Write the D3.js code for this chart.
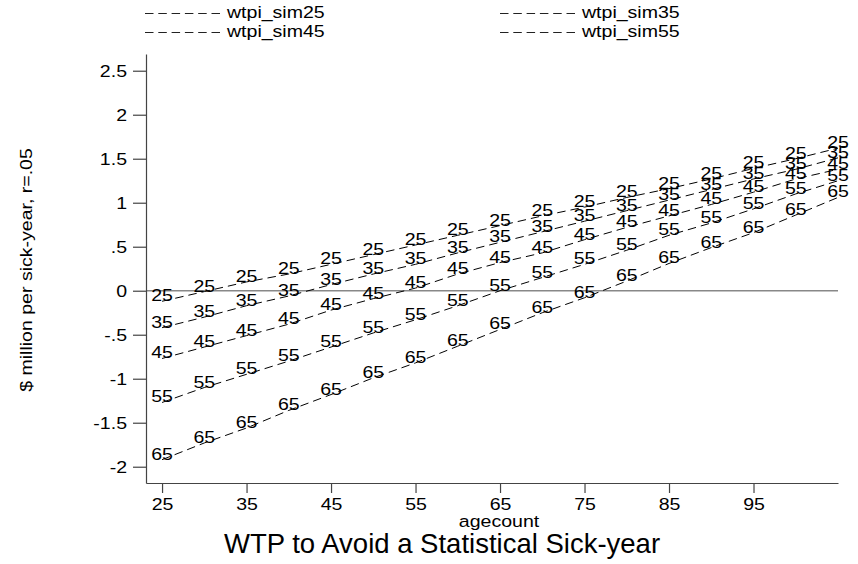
<!DOCTYPE html>
<html>
<head>
<meta charset="utf-8">
<script src="https://cdn.jsdelivr.net/npm/d3@7"></script>
<style>
  body { margin: 0; background: #fff; }
  svg { display: block; }
  text { font-family: Arial, "Liberation Sans", Helvetica, sans-serif; fill: #000; }
</style>
</head>
<body>
<svg id="chart" width="858" height="564"></svg>
<script>
// age points (every 5 years)
var ages = [25, 30, 35, 40, 45, 50, 55, 60, 65, 70, 75, 80, 85, 90, 95, 100, 105];

// wtp per sick-year
var sim25 = [-0.12, -0.01, 0.10, 0.19, 0.30, 0.41, 0.52, 0.63, 0.74, 0.85, 0.95, 1.06, 1.16, 1.27, 1.39, 1.50, 1.62];
var sim35 = [-0.42, -0.30, -0.17, -0.06, 0.07, 0.19, 0.30, 0.43, 0.55, 0.67, 0.79, 0.91, 1.03, 1.15, 1.27, 1.38, 1.51];
var sim45 = [-0.77, -0.64, -0.51, -0.38, -0.22, -0.09, 0.03, 0.19, 0.32, 0.43, 0.58, 0.72, 0.85, 0.98, 1.12, 1.27, 1.38];
var sim55 = [-1.27, -1.10, -0.95, -0.80, -0.64, -0.48, -0.33, -0.17, 0.00, 0.15, 0.30, 0.46, 0.63, 0.77, 0.93, 1.10, 1.25];
var sim65 = [-1.92, -1.73, -1.56, -1.36, -1.18, -0.99, -0.82, -0.63, -0.44, -0.25, -0.08, 0.11, 0.31, 0.49, 0.66, 0.86, 1.06];

var seriesNames = ["25", "35", "45", "55", "65"];
var seriesValues = [sim25, sim35, sim45, sim55, sim65];

var legendNames = ["wtpi_sim25", "wtpi_sim35", "wtpi_sim45", "wtpi_sim55"];

var xTicks = [25, 35, 45, 55, 65, 75, 85, 95];
var yTicks = [-2, -1.5, -1, -0.5, 0, 0.5, 1, 1.5, 2, 2.5];
var yTickLabels = ["-2", "-1.5", "-1", "-.5", "0", ".5", "1", "1.5", "2", "2.5"];

var SX = 1.15; // stata text is a bit wider than arial

var svg = d3.select("#chart");

var x = d3.scaleLinear().domain([23.1, 105]).range([146, 838]);
var y = d3.scaleLinear().domain([-2.185, 2.69]).range([483, 54]);

// zero line
svg.append("line")
    .attr("x1", x(23.1)).attr("x2", x(105))
    .attr("y1", y(0)).attr("y2", y(0))
    .attr("stroke", "#888").attr("stroke-width", 1.6);

// y axis
var yAxis = svg.append("g")
    .attr("transform", "translate(146,0)")
    .call(d3.axisLeft(y).tickValues(yTicks)
        .tickFormat(function(d, i) { return yTickLabels[i]; })
        .tickSize(13).tickSizeOuter(0));

yAxis.selectAll("text")
    .attr("x", null).attr("dy", null)
    .attr("transform", "translate(-19,6) scale(" + SX + ",1)")
    .style("font-size", "17px");

// x axis
var xAxis = svg.append("g")
    .attr("transform", "translate(0,483)")
    .call(d3.axisBottom(x).tickValues(xTicks)
        .tickFormat(d3.format("d"))
        .tickSize(10).tickSizeOuter(0));

xAxis.selectAll("text")
    .attr("y", null).attr("dy", null)
    .attr("transform", "translate(0,26.5) scale(" + SX + ",1)")
    .style("font-size", "17px");

svg.selectAll(".domain, .tick line")
    .attr("stroke", "#444").attr("stroke-width", 1.2);
svg.selectAll(".tick text").attr("fill", "#000").attr("font-family", null);

// dashed lines, then the age labels on top
var line = d3.line()
    .x(function(d, i) { return x(ages[i]); })
    .y(function(d) { return y(d); });

svg.selectAll(".series")
    .data(seriesValues)
    .enter().append("path")
    .attr("class", "series")
    .attr("d", line)
    .attr("fill", "none")
    .attr("stroke", "#000")
    .attr("stroke-width", 1)
    .attr("stroke-dasharray", "8.5,5");

seriesValues.forEach(function(vals, s) {
    svg.append("g").selectAll("text")
        .data(vals)
        .enter().append("text")
        .attr("text-anchor", "middle")
        .attr("transform", function(d, i) {
            return "translate(" + x(ages[i]) + "," + y(d) + ") scale(" + SX + ",1)";
        })
        .style("font-size", "17px")
        .text(seriesNames[s]);
});

// legend (2 columns)
var legX = [145, 500];
var legY = [13, 32];
legendNames.forEach(function(name, i) {
    var lx = legX[i % 2], ly = legY[Math.floor(i / 2)];
    svg.append("line")
        .attr("x1", lx).attr("x2", lx + 77)
        .attr("y1", ly + 0.5).attr("y2", ly + 0.5)
        .attr("stroke", "#222").attr("stroke-width", 1)
        .attr("stroke-dasharray", "8.5,4.8");
    svg.append("text")
        .attr("transform", "translate(" + (lx + 82) + "," + (ly + 5) + ") scale(" + SX + ",1)")
        .style("font-size", "17px")
        .text(name);
});

// axis titles
svg.append("text")
    .attr("text-anchor", "middle")
    .attr("transform", "translate(32,270) rotate(-90) scale(" + SX + ",1)")
    .style("font-size", "17px")
    .text("$ million per sick-year, r=.05");

svg.append("text")
    .attr("text-anchor", "middle")
    .attr("transform", "translate(499,527) scale(" + SX + ",1)")
    .style("font-size", "17px")
    .text("agecount");

// title
svg.append("text")
    .attr("text-anchor", "middle")
    .attr("transform", "translate(442,553)")
    .style("font-size", "27.5px")
    .text("WTP to Avoid a Statistical Sick-year");
</script>
</body>
</html>
